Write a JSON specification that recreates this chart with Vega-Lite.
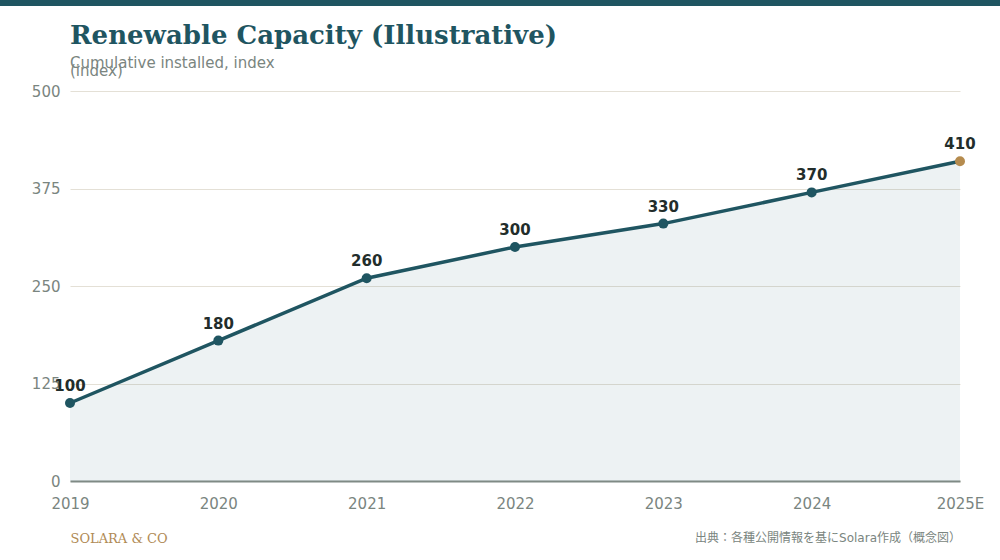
{
  "$schema": "https://vega.github.io/schema/vega-lite/v6.json",
  "autosize": "none",
  "width": 890,
  "height": 390,
  "padding": {"left": 70, "top": 91, "right": 40, "bottom": 79},
  "background": "#ffffff",
  "title": {
    "text": "Renewable Capacity (Illustrative)",
    "subtitle": ["Cumulative installed, index", "(index)"],
    "anchor": "start",
    "frame": "group",
    "font": "DejaVu Serif",
    "fontSize": 26,
    "fontWeight": "bold",
    "color": "#1f5561",
    "subtitleFont": "DejaVu Sans",
    "subtitleFontSize": 15,
    "subtitleColor": "#7a8580",
    "subtitleLineHeight": 8,
    "subtitlePadding": 7,
    "offset": -79
  },
  "data": {
    "values": [
      {"year": "2019", "value": 100, "kind": "actual"},
      {"year": "2020", "value": 180, "kind": "actual"},
      {"year": "2021", "value": 260, "kind": "actual"},
      {"year": "2022", "value": 300, "kind": "actual"},
      {"year": "2023", "value": 330, "kind": "actual"},
      {"year": "2024", "value": 370, "kind": "actual"},
      {"year": "2025E", "value": 410, "kind": "estimate"}
    ]
  },
  "encoding": {
    "x": {
      "field": "year",
      "type": "ordinal",
      "sort": null,
      "scale": {"type": "point", "padding": 0},
      "axis": {
        "title": "SOLARA & CO",
        "titleFont": "DejaVu Serif",
        "titleFontSize": 13,
        "titleFontWeight": "normal",
        "titleColor": "#b08a55",
        "titleAnchor": "start",
        "titleAlign": "left",
        "titlePadding": 21,
        "labelAngle": 0,
        "labelPadding": 15,
        "labelFontSize": 15,
        "labelColor": "#7a8580",
        "labelFont": "DejaVu Sans",
        "ticks": false,
        "grid": false,
        "domainColor": "#7f8a85",
        "domainWidth": 2
      }
    },
    "y": {
      "field": "value",
      "type": "quantitative",
      "scale": {"domain": [0, 500]},
      "axis": {
        "title": null,
        "values": [0, 125, 250, 375, 500],
        "labelPadding": 10,
        "labelFontSize": 15,
        "labelColor": "#7a8580",
        "labelFont": "DejaVu Sans",
        "ticks": false,
        "domain": false,
        "gridColor": "#e4e0d6",
        "gridWidth": 1
      }
    }
  },
  "layer": [
    {
      "mark": {"type": "area", "color": "#1f5561", "opacity": 0.08}
    },
    {
      "mark": {"type": "line", "color": "#1f5561", "strokeWidth": 3.5}
    },
    {
      "mark": {"type": "point", "filled": true, "size": 100, "opacity": 1},
      "encoding": {
        "color": {
          "field": "kind",
          "type": "nominal",
          "scale": {"domain": ["actual", "estimate"], "range": ["#1f5561", "#b58b4e"]},
          "legend": null
        }
      }
    },
    {
      "mark": {
        "type": "text",
        "dy": -17,
        "font": "DejaVu Sans",
        "fontSize": 15,
        "fontWeight": "bold",
        "color": "#222d2b"
      },
      "encoding": {"text": {"field": "value", "type": "quantitative"}}
    },
    {
      "data": {"values": [{"note": "出典：各種公開情報を基にSolara作成（概念図）"}]},
      "mark": {
        "type": "text",
        "align": "right",
        "baseline": "middle",
        "font": "DejaVu Sans, Noto Sans CJK JP",
        "fontSize": 12,
        "color": "#7a8580"
      },
      "encoding": {
        "x": {"value": 891},
        "y": {"value": 447},
        "text": {"field": "note"}
      }
    },
    {
      "data": {"values": [{"band": "top"}]},
      "mark": {"type": "rect", "color": "#1f5561"},
      "encoding": {
        "x": {"value": -70},
        "x2": {"value": 930},
        "y": {"value": -91},
        "y2": {"value": -85}
      }
    }
  ],
  "config": {"view": {"stroke": null}}
}
